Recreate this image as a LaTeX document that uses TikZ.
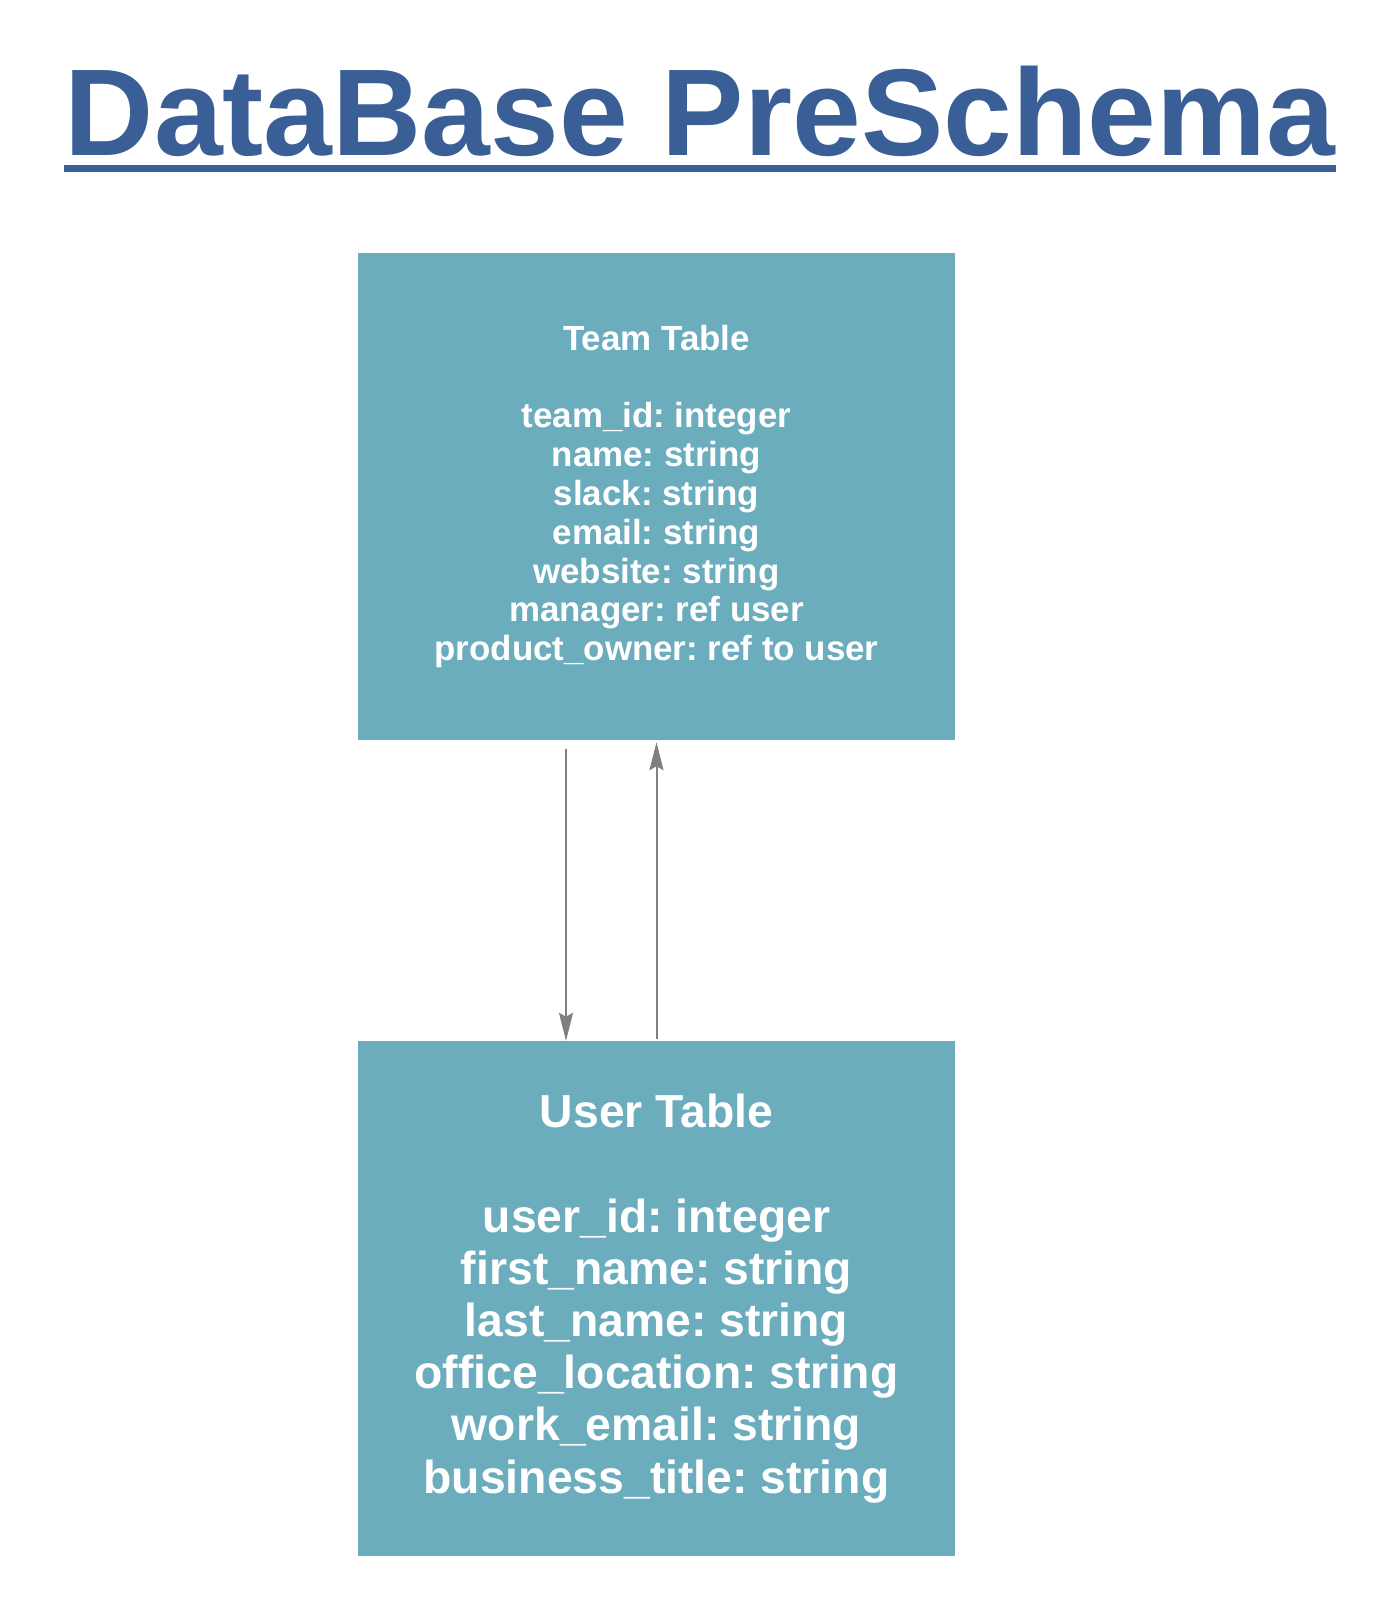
\documentclass[tikz,border=0pt]{standalone}
\usepackage{fontspec}
\setmainfont{Liberation Sans}
\usepackage{tikz}
\usetikzlibrary{arrows.meta}
\definecolor{titleblue}{RGB}{58,94,150}
\definecolor{tableblue}{RGB}{107,172,189}
\definecolor{linkgray}{RGB}{128,128,128}
\frenchspacing

\tikzset{
    tablebox/.style={fill=tableblue, draw=none, inner sep=0pt, text=white,
        align=center, minimum width=597pt},
    link/.style={linkgray, line width=2pt,
        -{Stealth[length=28pt, width=14pt, inset=4pt]}}
}

\begin{document}
\begin{tikzpicture}[x=1pt, y=-1pt]
            \useasboundingbox (0,0) rectangle (1394,1612);

            \node[titleblue, inner sep=0pt, anchor=base,
                font=\fontsize{123.5}{130}\selectfont\bfseries] (title) at (700,155) {DataBase PreSchema};
            \draw[titleblue, line width=7pt] (64,168) -- (1336,168);

            \node[tablebox, minimum height=487pt,
                font=\fontsize{34.9}{38.8}\selectfont\bfseries] (team) at (656.5,496.5)
                {Team Table\\ ~\\ team\_id: integer\\ name: string\\ slack: string\\ email: string\\
                 website: string\\ manager: ref user\\ product\_owner: ref to user};

            \node[tablebox, minimum height=515pt,
                font=\fontsize{46.3}{52.2}\selectfont\bfseries] (user) at (656.5,1298.5)
                {User Table\\ ~\\ user\_id: integer\\ first\_name: string\\ last\_name: string\\
                 office\_location: string\\ work\_email: string\\ business\_title: string};

            \draw[link] ([xshift=-90.5pt, yshift=-9pt]team.south) -- ([xshift=-90.5pt]user.north);
            \draw[link] ([yshift=2pt]user.north) -- ([yshift=-2pt]team.south);
        \end{tikzpicture}
\end{document}
